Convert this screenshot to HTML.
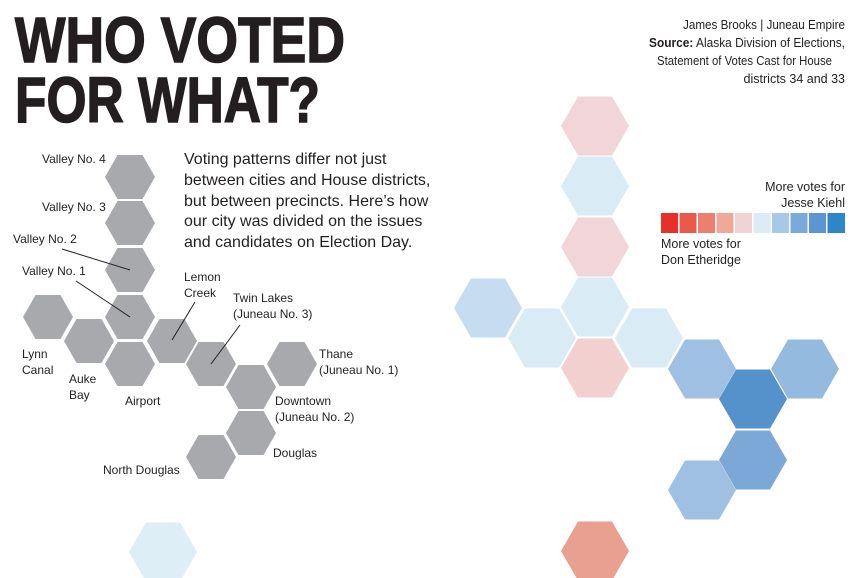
<!DOCTYPE html>
<html><head><meta charset="utf-8"><style>
html,body{margin:0;padding:0;background:#fff}
svg{display:block}
text{font-family:"Liberation Sans",sans-serif;fill:#231f20}
</style></head><body>
<svg width="867" height="578" viewBox="0 0 867 578" xmlns="http://www.w3.org/2000/svg">
<defs>
<polygon id="h" points="-25,0 -12.5,-22 12.5,-22 25,0 12.5,22 -12.5,22"/>
<polygon id="H" points="-34,0 -17,-29.5 17,-29.5 34,0 17,29.5 -17,29.5"/>
</defs>
<text x="15" y="62" font-size="64" font-weight="bold" stroke="#231f20" stroke-width="1.5" textLength="330" lengthAdjust="spacingAndGlyphs">WHO VOTED</text>
<text x="15" y="122" font-size="64" font-weight="bold" stroke="#231f20" stroke-width="1.5" textLength="305" lengthAdjust="spacingAndGlyphs">FOR WHAT?</text>
<g font-size="13" text-anchor="end">
<text x="845" y="29" textLength="162" lengthAdjust="spacingAndGlyphs">James Brooks | Juneau Empire</text>
<text x="845" y="47" textLength="196" lengthAdjust="spacingAndGlyphs"><tspan font-weight="bold">Source:</tspan> Alaska Division of Elections,</text>
<text x="832" y="65" textLength="175" lengthAdjust="spacingAndGlyphs">Statement of Votes Cast for House</text>
<text x="845" y="83" font-size="12.5">districts 34 and 33</text>
</g>
<g font-size="16">
<text x="184" y="164">Voting patterns differ not just</text>
<text x="184" y="185">between cities and House districts,</text>
<text x="184" y="206">but between precincts. Here’s how</text>
<text x="184" y="226">our city was divided on the issues</text>
<text x="184" y="247">and candidates on Election Day.</text>
</g>
<g fill="#a7a9ac">
<use href="#h" x="130" y="177"/><use href="#h" x="130" y="223"/><use href="#h" x="130" y="270"/><use href="#h" x="130" y="317"/>
<use href="#h" x="48" y="317"/><use href="#h" x="89" y="341"/><use href="#h" x="130" y="364"/><use href="#h" x="172" y="341"/>
<use href="#h" x="211" y="364"/><use href="#h" x="292" y="364"/><use href="#h" x="251" y="387"/><use href="#h" x="251" y="433"/><use href="#h" x="211" y="457"/>
</g>
<use href="#H" x="163" y="552" fill="#ddeef6"/>
<g stroke="#231f20" stroke-width="1">
<line x1="62" y1="249" x2="130" y2="270"/><line x1="76" y1="281" x2="130" y2="317"/>
<line x1="195" y1="302" x2="172" y2="340"/><line x1="240" y1="325" x2="211" y2="364"/>
</g>
<g font-size="12">
<text x="42" y="163">Valley No. 4</text><text x="42" y="211">Valley No. 3</text>
<text x="13" y="243">Valley No. 2</text><text x="22" y="275">Valley No. 1</text>
<text x="184" y="281">Lemon</text><text x="184" y="297">Creek</text>
<text x="233" y="302">Twin Lakes</text><text x="233" y="318">(Juneau No. 3)</text>
<text x="22" y="358">Lynn</text><text x="22" y="374">Canal</text>
<text x="69" y="383">Auke</text><text x="69" y="399">Bay</text>
<text x="125" y="405">Airport</text>
<text x="319" y="358">Thane</text><text x="319" y="374">(Juneau No. 1)</text>
<text x="275" y="405">Downtown</text><text x="275" y="421">(Juneau No. 2)</text>
<text x="273" y="457">Douglas</text><text x="103" y="474">North Douglas</text>
</g>
<use href="#H" x="595" y="126" fill="#f2d5d9"/>
<use href="#H" x="595" y="186" fill="#d9ecf5"/>
<use href="#H" x="595" y="247" fill="#f2d5d9"/>
<use href="#H" x="595" y="307" fill="#d9ecf5"/>
<use href="#H" x="488" y="308" fill="#c6dcf0"/>
<use href="#H" x="542" y="338" fill="#d9ecf5"/>
<use href="#H" x="595" y="368" fill="#f2d0d0"/>
<use href="#H" x="649" y="338" fill="#d9ecf5"/>
<use href="#H" x="702" y="369" fill="#9fc0e3"/>
<use href="#H" x="805" y="369" fill="#94bae0"/>
<use href="#H" x="753" y="399" fill="#5592cb"/>
<use href="#H" x="753" y="460" fill="#7ba8d6"/>
<use href="#H" x="702" y="490" fill="#9fc0e3"/>
<use href="#H" x="595" y="551" fill="#eaa090"/>
<g font-size="12.5">
<text x="845" y="191" text-anchor="end">More votes for</text>
<text x="845" y="207" text-anchor="end">Jesse Kiehl</text>
<text x="661" y="248">More votes for</text>
<text x="661" y="264">Don Etheridge</text>
</g>
<g>
<rect x="661" y="213" width="17" height="20" fill="#e8302a"/>
<rect x="679.5" y="213" width="17" height="20" fill="#ea5a4a"/>
<rect x="698" y="213" width="17" height="20" fill="#ec806e"/>
<rect x="716.5" y="213" width="17" height="20" fill="#f0a898"/>
<rect x="735" y="213" width="17" height="20" fill="#f2d3d3"/>
<rect x="753.5" y="213" width="17" height="20" fill="#dbecf6"/>
<rect x="772" y="213" width="17" height="20" fill="#a8c8e8"/>
<rect x="790.5" y="213" width="17" height="20" fill="#7aaadb"/>
<rect x="809" y="213" width="17" height="20" fill="#5c95d0"/>
<rect x="827.5" y="213" width="17.5" height="20" fill="#2e86c8"/>
</g>
</svg>
</body></html>
